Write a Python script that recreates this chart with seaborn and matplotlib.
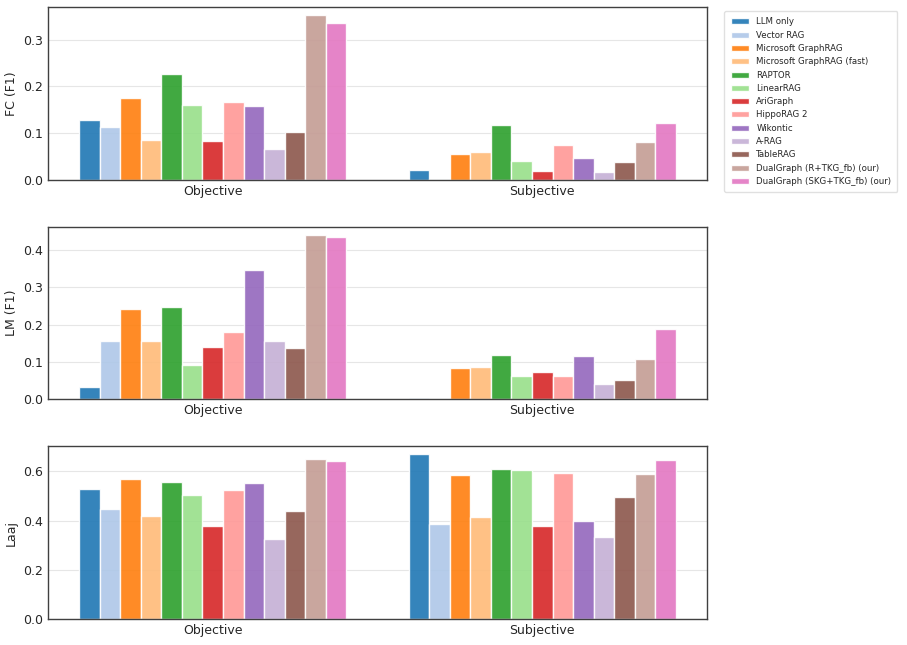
import numpy as np
import pandas as pd
import matplotlib
matplotlib.use("Agg")
import matplotlib.pyplot as plt
import seaborn as sns

methods = ["LLM only", "Vector RAG", "Microsoft GraphRAG", "Microsoft GraphRAG (fast)",
           "RAPTOR", "LinearRAG", "AriGraph", "HippoRAG 2", "Wikontic", "A-RAG",
           "TableRAG", "DualGraph (R+TKG_fb) (our)", "DualGraph (SKG+TKG_fb) (our)"]
categories = ["Objective", "Subjective"]

fc_objective = [0.127, 0.114, 0.176, 0.086, 0.227, 0.160, 0.084, 0.166, 0.157, 0.065, 0.102, 0.352, 0.335]
fc_subjective = [0.021, 0.002, 0.056, 0.059, 0.118, 0.041, 0.019, 0.074, 0.047, 0.016, 0.038, 0.081, 0.122]

lm_objective = [0.034, 0.157, 0.242, 0.157, 0.247, 0.091, 0.139, 0.180, 0.347, 0.157, 0.138, 0.440, 0.433]
lm_subjective = [0.005, 0.0, 0.084, 0.087, 0.118, 0.063, 0.073, 0.063, 0.116, 0.041, 0.052, 0.109, 0.187]

laaj_objective = [0.528, 0.448, 0.570, 0.418, 0.555, 0.502, 0.376, 0.523, 0.551, 0.327, 0.440, 0.650, 0.641]
laaj_subjective = [0.669, 0.388, 0.584, 0.415, 0.608, 0.607, 0.376, 0.593, 0.400, 0.335, 0.496, 0.588, 0.648]

panels = [
    ("FC (F1)", fc_objective, fc_subjective),
    ("LM (F1)", lm_objective, lm_subjective),
    ("Laaj", laaj_objective, laaj_subjective),
]

sns.set_style("whitegrid")
plt.rcParams['font.family'] = ['DejaVu Sans']

palette = sns.color_palette("tab20", 13)

fig, axes = plt.subplots(3, 1, figsize=(9.07, 6.45), dpi=100)
fig.subplots_adjust(left=48/907, right=707/907, top=1-7/645, bottom=1-619/645, hspace=0.27)

for ax, (label, obj, subj) in zip(axes, panels):
    df = pd.DataFrame({
        "category": [categories[0]] * len(methods) + [categories[1]] * len(methods),
        "method": methods + methods,
        "value": obj + subj,
    })
    sns.barplot(data=df, x="category", y="value", hue="method", hue_order=methods,
                palette=palette, saturation=1, alpha=0.9, edgecolor="white",
                linewidth=1, width=0.81, ax=ax, legend=(ax is axes[0]))
    ax.set_xlabel("")
    ax.set_ylabel(label, fontsize=9, color="0.15")
    ax.grid(axis="x", visible=False)
    ax.grid(axis="y", color="0.9", linewidth=0.8)
    ax.set_axisbelow(True)
    ax.tick_params(axis="both", labelsize=9, colors="0.15", length=0)
    for sp in ax.spines.values():
        sp.set_color("0.25")
        sp.set_linewidth(1)
    ax.set_xlim(-0.5, 1.5)

axes[0].set_yticks([0.0, 0.1, 0.2, 0.3])
axes[1].set_yticks([0.0, 0.1, 0.2, 0.3, 0.4])
axes[2].set_yticks([0.0, 0.2, 0.4, 0.6])
for ax in axes:
    ax.set_yticklabels([f"{t:.1f}" for t in ax.get_yticks()])

leg = axes[0].legend(loc="upper left", bbox_to_anchor=(1.02, 1.0), fontsize=6.2,
                     frameon=True, borderpad=0.7, labelspacing=0.5, handlelength=2.2)
leg.get_frame().set_edgecolor("0.85")

fig.savefig("out.png", dpi=100)
